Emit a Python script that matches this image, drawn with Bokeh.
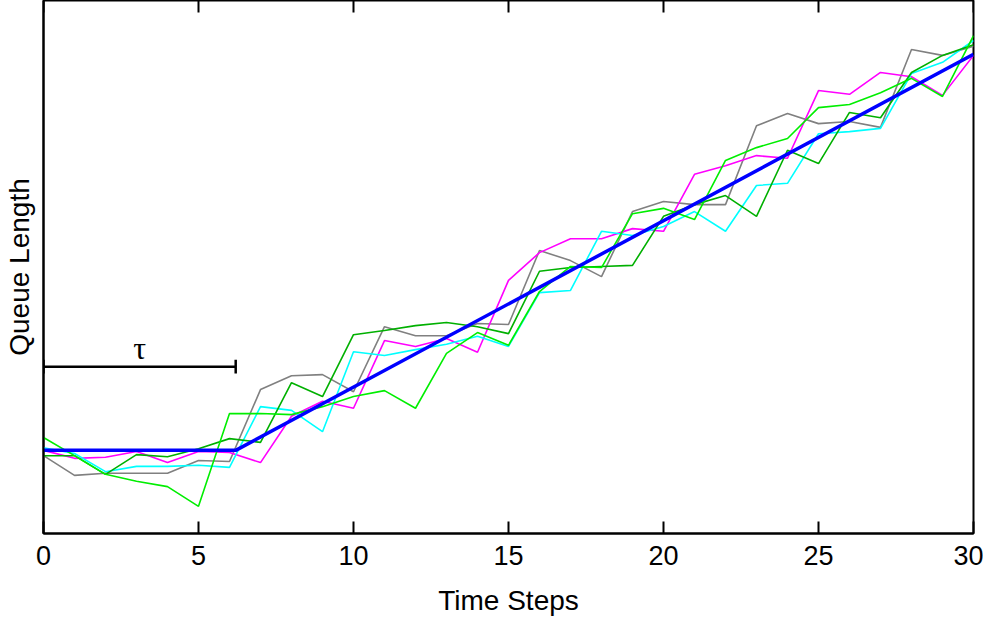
import math
from bokeh.plotting import figure
from bokeh.models import FixedTicker, Range1d
from bokeh.core.properties import value
from bokeh.embed import file_html
from bokeh.resources import INLINE

# ---- data ----
steps = list(range(31))
x_ticks = [0, 5, 10, 15, 20, 25, 30]

gray_q = [14.6, 10.9, 11.3, 11.3, 11.3, 13.7, 13.5, 27.0, 29.6, 29.8, 26.6,
          38.8, 37.1, 37.1, 39.4, 39.2, 53.1, 51.2, 48.2, 60.4, 62.3,
          61.7, 61.7, 76.5, 78.8, 76.9, 77.3, 76.2, 90.8, 89.7, 91.4]
magenta_q = [15.6, 14.1, 14.3, 15.4, 13.3, 15.4, 15.2, 13.3, 22.0, 24.8, 23.5,
             36.2, 35.1, 36.6, 34.0, 47.5, 52.7, 55.3, 55.3, 57.2, 56.7,
             67.4, 69.0, 70.9, 70.4, 83.1, 82.4, 86.5, 85.7, 82.2, 89.7]
cyan_q = [16.1, 15.0, 11.6, 12.6, 12.6, 12.8, 12.4, 23.8, 23.1, 19.1, 34.1,
          33.4, 34.5, 35.5, 37.0, 35.1, 45.2, 45.6, 56.7, 55.9, 57.6,
          60.4, 56.7, 65.3, 65.7, 75.0, 75.4, 76.0, 86.3, 88.4, 92.5]
lime_q = [18.0, 14.6, 11.1, 9.8, 8.8, 5.1, 22.5, 22.5, 22.3, 23.8, 25.7,
          26.8, 23.5, 33.8, 37.7, 35.3, 45.4, 50.1, 49.9, 60.0, 61.0,
          58.9, 70.0, 72.4, 74.1, 79.9, 80.5, 82.7, 85.4, 82.0, 93.4]
dgreen_q = [14.6, 14.6, 11.1, 14.8, 14.4, 15.9, 17.8, 17.1, 28.3, 25.7, 37.3,
            38.1, 39.0, 39.6, 38.8, 37.5, 49.2, 49.9, 50.1, 50.3, 59.5,
            61.7, 63.4, 59.5, 71.9, 69.4, 79.0, 78.0, 86.5, 89.7, 91.7]

tau = 6.2
model_x = [0, tau, 30]
model_q = [15.6, 15.6, 89.9]

tau_level = 31.3
tau_half_tick = 1.3
y_top = 100

# ---- figure ----
p = figure(width=983, height=618, x_range=Range1d(0, 30), y_range=Range1d(0, y_top),
           output_backend="svg", toolbar_location=None,
           min_border_left=0, min_border_right=10, min_border_top=0, min_border_bottom=0)
p.background_fill_color = "white"
p.border_fill_color = "white"
p.outline_line_color = "black"
p.outline_line_width = 2
p.grid.visible = False

FONT = "Liberation Sans"

xa = p.xaxis[0]
xa.ticker = FixedTicker(ticks=x_ticks)
xa.major_tick_in = 12
xa.major_tick_out = 0
xa.minor_tick_in = 0
xa.minor_tick_out = 0
xa.major_tick_line_width = 2
xa.axis_line_width = 2
xa.major_label_text_font = FONT
xa.major_label_text_font_size = "27px"
xa.major_label_text_color = "black"
xa.major_label_standoff = 12
xa.axis_label = "Time Steps"
xa.axis_label_text_font = FONT
xa.axis_label_text_font_size = "28px"
xa.axis_label_text_font_style = "normal"
xa.axis_label_text_color = "black"
xa.axis_label_standoff = 17

ya = p.yaxis[0]
ya.ticker = FixedTicker(ticks=[])
ya.major_tick_in = 0
ya.major_tick_out = 0
ya.minor_tick_in = 0
ya.minor_tick_out = 0
ya.major_label_standoff = 0
ya.axis_line_width = 2
ya.axis_label = "Queue Length"
ya.axis_label_text_font = FONT
ya.axis_label_text_font_size = "28px"
ya.axis_label_text_font_style = "normal"
ya.axis_label_text_color = "black"
ya.axis_label_standoff = 9

# mirrored ticks on the top border
p.ray(x=x_ticks, y=[y_top] * len(x_ticks), length=12, length_units="screen",
      angle=-math.pi / 2, line_color="black", line_width=2)

# ---- series ----
p.line(steps, gray_q, line_color="#808080", line_width=1.6)
p.line(steps, magenta_q, line_color="#ff00ff", line_width=1.6)
p.line(steps, cyan_q, line_color="#00ffff", line_width=1.6)
p.line(steps, dgreen_q, line_color="#00b000", line_width=1.6)
p.line(steps, lime_q, line_color="#00ee00", line_width=1.6)
p.line(model_x, model_q, line_color="#0000ff", line_width=3.5)

# ---- tau bracket ----
p.line([0, tau], [tau_level, tau_level], line_color="black", line_width=2.5)
p.segment(x0=[0, tau], y0=[tau_level - tau_half_tick] * 2,
          x1=[0, tau], y1=[tau_level + tau_half_tick] * 2,
          line_color="black", line_width=2.5)
p.text(x=[tau / 2], y=[tau_level], text=["τ"], text_font=value("Liberation Serif"),
       text_font_size="32px", text_align="center", text_baseline="bottom",
       y_offset=-1, text_color="black")

open("out.html", "w").write(file_html(p, INLINE))
